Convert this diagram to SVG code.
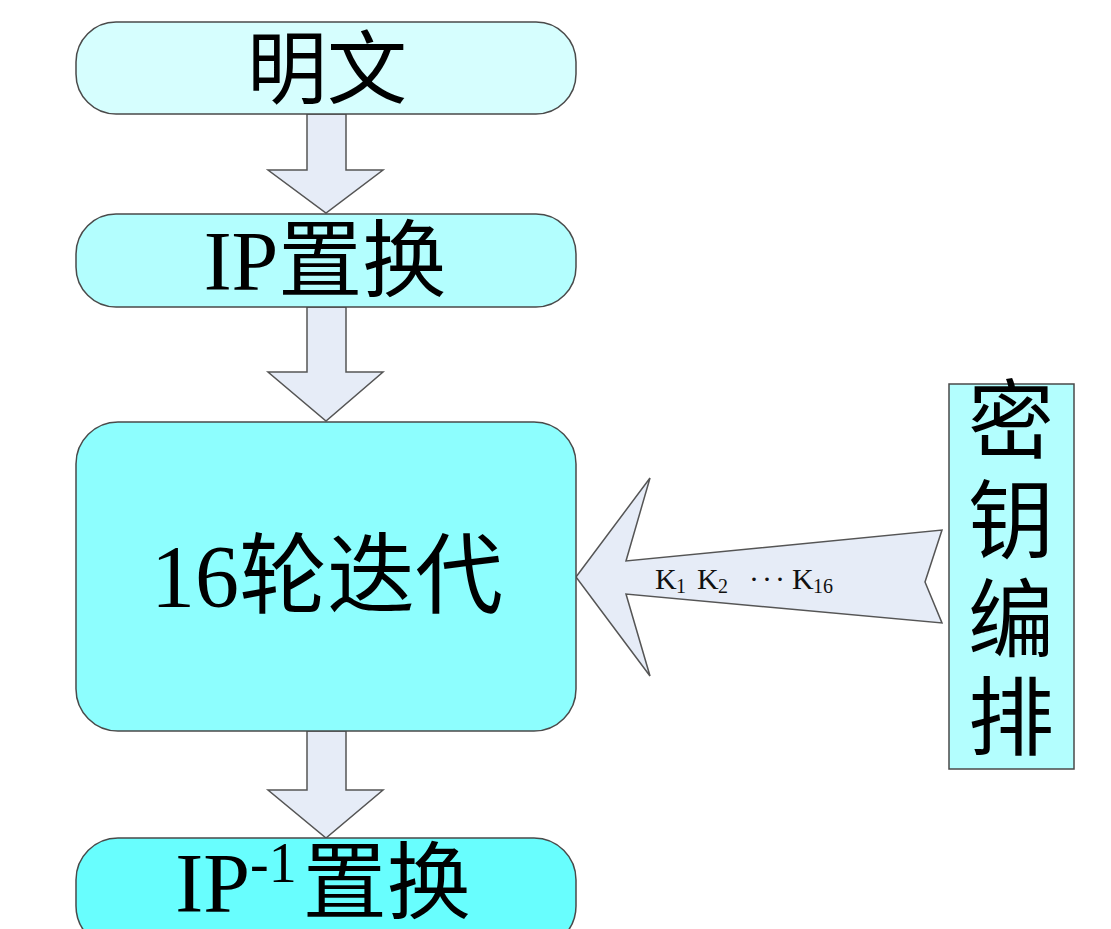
<svg xmlns="http://www.w3.org/2000/svg" width="1111" height="929" viewBox="0 0 1111 929">
<style>
.box{stroke:#4a4a4a;stroke-width:1.5}
.arr{fill:#e6ecf7;stroke:#555;stroke-width:1.5;stroke-linejoin:miter}
.t{font-family:"Liberation Serif","Noto Sans CJK SC",serif;fill:#000;text-anchor:middle}
.k{font-family:"Liberation Serif",serif;fill:#111;font-size:30px}
.s{font-size:20px}
</style>
<rect width="1111" height="929" fill="#fff"/>
<g id="connectors">
<polygon class="arr" points="307,114 346,114 346,170 383,170 326,213 268,170 307,170"/>
<polygon class="arr" points="307,307 346,307 346,372 383,372 326,421 268,372 307,372"/>
<polygon class="arr" points="307,731 346,731 346,790 383,790 326,838 268,790 307,790"/>
<polygon class="arr" points="576,577 650,478 626,561 942,530 925,582 942,623 626,594 650,676"/>
<text class="k" x="655" y="589">K</text>
<text class="k s" x="676" y="593">1</text>
<text class="k" x="697" y="589">K</text>
<text class="k s" x="718" y="593">2</text>
<text class="k" x="749" y="589" letter-spacing="3">···</text>
<text class="k" x="792" y="589">K</text>
<text class="k s" x="813" y="593">16</text>
</g>
<g id="n1">
<rect class="box" x="76" y="22" width="500" height="92" rx="40" fill="#d6fefe"/>
<text class="t" x="327" y="97" font-size="80">明文</text>
</g>
<g id="n2">
<rect class="box" x="76" y="214" width="500" height="93" rx="40" fill="#b3fefe"/>
<text class="t" x="325" y="290" font-size="84">IP置换</text>
</g>
<g id="n3">
<rect class="box" x="76" y="422" width="500" height="309" rx="42" fill="#8dfefe"/>
<text class="t" x="327" y="606" font-size="88">16轮迭代</text>
</g>
<g id="n4">
<rect class="box" x="76" y="838" width="500" height="110" rx="42" fill="#68fefe"/>
<text class="t" x="323" y="912" font-size="84">IP<tspan font-size="56" dy="-30">-1</tspan><tspan dy="30" dx="6">置换</tspan></text>
</g>
<g id="key">
<rect class="box" x="949" y="384" width="125" height="385" fill="#b3fefe"/>
<text class="t" x="1011" y="452" font-size="86">密</text>
<text class="t" x="1011" y="552" font-size="86">钥</text>
<text class="t" x="1011" y="651" font-size="86">编</text>
<text class="t" x="1011" y="749" font-size="86">排</text>
</g>
</svg>
